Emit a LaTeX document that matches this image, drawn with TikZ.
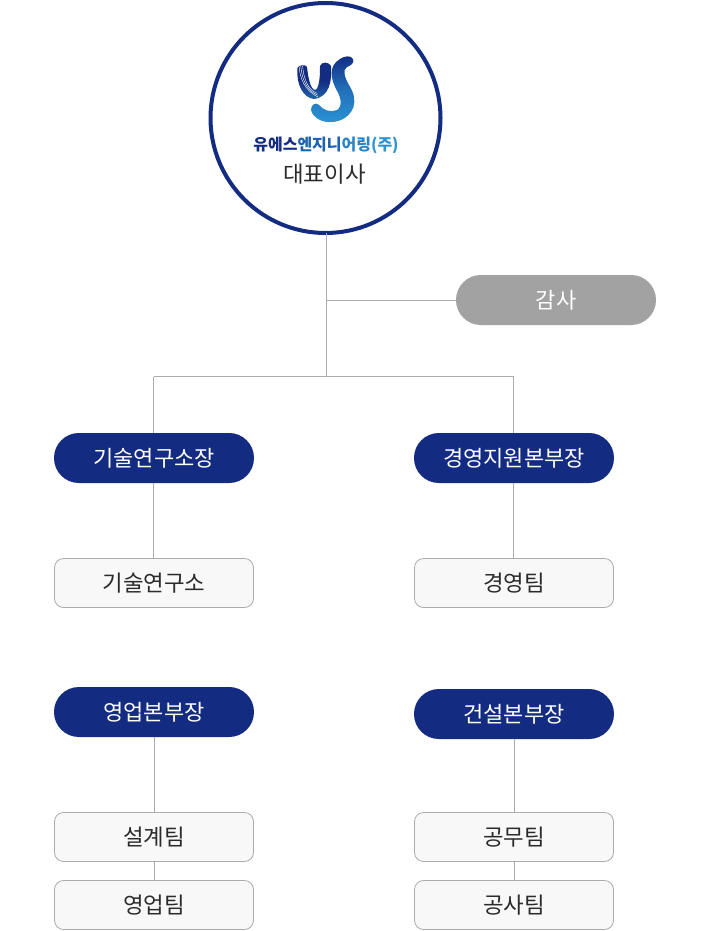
\documentclass[tikz,border=0pt]{standalone}
\usepackage{fontspec}
\setmainfont{Noto Sans CJK KR}
\definecolor{navy}{HTML}{132B81}
\definecolor{midblue}{HTML}{1F62AE}
\definecolor{skyblue}{HTML}{2A93D5}
\definecolor{auditgray}{HTML}{A3A2A2}
\definecolor{linegray}{HTML}{ABABAB}
\definecolor{teamfill}{HTML}{F8F8F8}
\definecolor{textdark}{HTML}{2B2B2B}
\tikzset{
  head/.style={rounded corners=24.9pt, fill=navy, text=white, minimum width=200pt, minimum height=50pt, inner sep=0pt, outer sep=0pt, text height=19pt, text depth=3pt, font=\fontsize{22}{24}\selectfont},
  audit/.style={head, fill=auditgray},
  team/.style={rounded corners=9pt, draw=linegray, line width=0.8pt, fill=teamfill, text=textdark, minimum width=199pt, minimum height=49pt, inner sep=0pt, outer sep=0pt, text height=19pt, text depth=3pt, font=\fontsize{22.4}{24}\selectfont},
  wire/.style={draw=linegray, line width=0.9pt}
}
\begin{document}
\begin{tikzpicture}[x=1pt, y=-1pt]
  \useasboundingbox (0,0) rectangle (713,931);
  \node [circle, draw=navy, line width=4pt, fill=white, minimum size=230pt, inner sep=0pt, outer sep=0pt] (ceo) at (325.5,118) {};
  % logo
  \shade [top color=navy, bottom color=midblue, middle color=navy]
    (297.5,68) .. controls (298,65) and (306,64) .. (307,67)
    .. controls (308,76) and (310,89) .. (315,90)
    .. controls (320,89) and (320,72) .. (320,66)
    .. controls (322,61) and (329,62) .. (331,66)
    .. controls (332,80) and (330,97) .. (314,99)
    .. controls (303,98) and (296,84) .. (297.5,68) -- cycle;
  \foreach \i in {0,1.8,3.6} {
    \draw [white, line width=0.4pt] (299+\i,66) .. controls (300+\i,78) and (304+\i,90) .. (318-\i*0.2,97-\i);
  }
  \shade [top color=navy, bottom color=skyblue, middle color=skyblue!65!navy]
    (340,59) .. controls (344,56) and (351,55) .. (353,59)
    .. controls (355,63) and (350,66) .. (347,67)
    .. controls (342,70) and (345,78) .. (349,85)
    .. controls (354,93) and (355.5,100) .. (353.5,107)
    .. controls (349,119) and (337,123) .. (327,122)
    .. controls (319,121) and (312,116) .. (311,110)
    .. controls (311,104) and (316,102) .. (319,105)
    .. controls (323,110) and (331,113) .. (337,110)
    .. controls (343,106) and (341,97) .. (336,89)
    .. controls (331,79) and (328,66) .. (340,59) -- cycle;
  \node [font=\bfseries\fontsize{16}{17}\selectfont, inner sep=0pt] (brand) at (326,145) {\textcolor{navy}{유에스}\textcolor{midblue}{엔지니}\textcolor{skyblue!70!midblue}{어링}\textcolor{skyblue}{(주)}};
  \node [font=\fontsize{22.4}{24}\selectfont, text=textdark, inner sep=0pt] (ceolabel) at (324.5,174.5) {대표이사};
  \node [audit] (gamsa) at (556,300) {감사};
  \node [head] (rnd) at (154,458) {기술연구소장};
  \node [head] (mgmt) at (514,458) {경영지원본부장};
  \node [team] (rndteam) at (154,583) {기술연구소};
  \node [team] (mgmtteam) at (514,583) {경영팀};
  \node [head] (sales) at (154,712) {영업본부장};
  \node [head] (build) at (514,714) {건설본부장};
  \node [team] (design) at (154,837) {설계팀};
  \node [team] (salesteam) at (154,905) {영업팀};
  \node [team] (works) at (514,837) {공무팀};
  \node [team] (site) at (514,905) {공사팀};
  \coordinate (auditj) at (326,300);
  \coordinate (mainj) at (326,376.5);
  \coordinate (leftj) at (153.5,376.5);
  \coordinate (rightj) at (513.5,376.5);
  \draw [wire] (326,233) -- (mainj);
  \draw [wire] (auditj) -- (gamsa);
  \draw [wire] (leftj) -- (rightj);
  \draw [wire] (leftj) -- (leftj |- rnd.north);
  \draw [wire] (rightj) -- (rightj |- mgmt.north);
  \draw [wire] (leftj |- rnd.south) -- (leftj |- rndteam.north);
  \draw [wire] (rightj |- mgmt.south) -- (rightj |- mgmtteam.north);
  \draw [wire] (sales) -- (design);
  \draw [wire] (design) -- (salesteam);
  \draw [wire] (build) -- (works);
  \draw [wire] (works) -- (site);
\end{tikzpicture}
\end{document}
